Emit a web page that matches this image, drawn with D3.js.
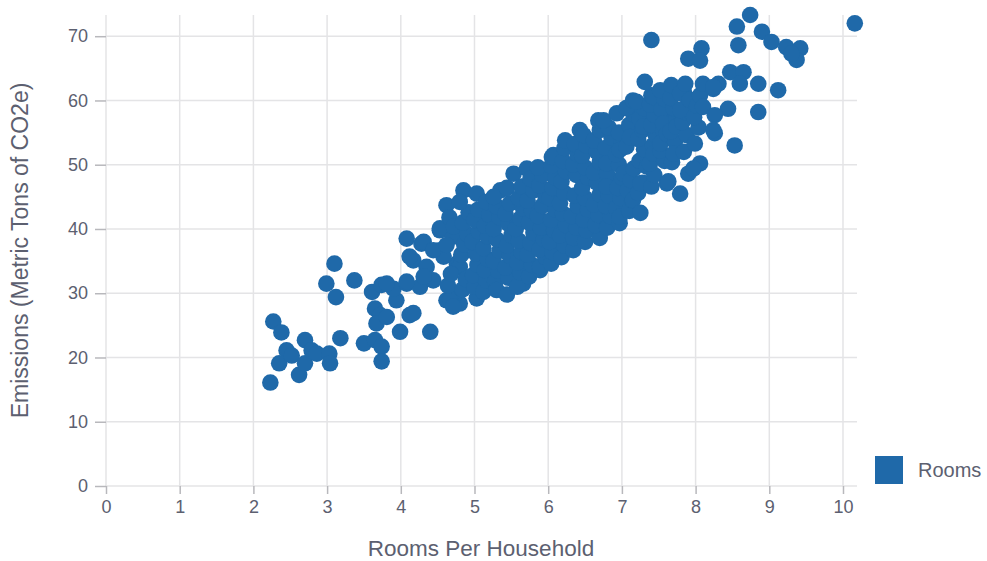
<!DOCTYPE html>
<html>
<head>
<meta charset="utf-8">
<script src="https://cdn.jsdelivr.net/npm/d3@7"></script>
<style>
  html, body { margin: 0; padding: 0; background: #ffffff; }
  svg { display: block; }
  text { font-family: "Liberation Sans", Arial, Helvetica, sans-serif; }
</style>
</head>
<body>
<svg id="chart" width="987" height="561"></svg>
<script>
// Rooms per household (x) vs. emissions in metric tons of CO2e (y)
const seriesName = "Rooms";
const xTitle = "Rooms Per Household";
const yTitle = "Emissions (Metric Tons of CO2e)";
const xTicks = [0, 1, 2, 3, 4, 5, 6, 7, 8, 9, 10];
const yTicks = [0, 10, 20, 30, 40, 50, 60, 70];

// small-home tail
const tailPoints = [
  [2.23,16.1],[2.27,25.6],[2.38,23.9],[2.45,21.1],[2.35,19.1],[2.52,20.3],[2.62,17.3],[2.70,19.1],
  [2.70,22.7],[2.79,21.1],[2.86,20.6],[3.03,20.6],[3.04,19.1],[3.18,23.0],[2.99,31.5],[3.10,34.6],
  [3.12,29.4],[3.37,32.0],[3.50,22.2],[3.65,22.7],[3.74,21.7],[3.74,19.4],[3.65,27.6],[3.72,26.6],
  [3.67,25.3],[3.81,26.3],[3.61,30.2],[3.74,31.3],[3.99,24.0],[4.12,26.6],[4.40,24.0],[3.94,28.9],
  [3.90,30.7],[4.08,31.5],[4.26,31.0],[4.08,38.5],[4.53,39.8],[4.62,43.7],[4.17,35.1],[4.28,37.7],
  [4.35,34.1],[4.44,32.0],[4.62,28.9],[4.80,28.4],[4.71,29.4],[5.03,29.2],[4.53,36.7],[4.76,34.6],
  [3.81,31.5],[4.08,31.8],[4.31,32.6],[4.17,26.9],[4.67,28.9],[4.71,27.9],[4.80,34.1],[4.58,35.7],
  [4.31,38.0],[4.71,38.8],[4.12,35.7],[4.44,36.7],[4.53,40.1],[4.85,46.0],[5.03,45.5],[5.35,46.0]
];

// main body of the cloud
const bodyPoints = [
  [4.64,31.2],[4.68,33.0],[4.62,37.5],[4.66,41.8],[4.72,40.4],
  [4.84,30.6],[4.88,32.2],[4.82,36.0],[4.86,37.6],[4.90,39.2],[4.84,41.0],[4.92,42.6],[4.80,44.2],
  [5.00,31.0],[4.98,32.8],[5.04,34.4],[5.02,36.2],[4.97,38.0],[5.06,39.6],[5.00,41.4],[5.05,43.0],
  [5.12,30.2],[5.16,32.0],[5.14,33.6],[5.18,35.3],[5.12,37.0],[5.18,38.8],[5.14,40.5],[5.20,42.2],[5.16,44.2],
  [5.28,31.8],[5.32,33.5],[5.26,35.0],[5.34,36.6],[5.30,38.4],[5.26,40.0],[5.34,41.8],[5.30,43.5],[5.26,45.0],
  [5.30,30.5],[5.44,29.8],[5.46,32.4],[5.42,34.0],[5.48,35.8],[5.44,37.4],[5.50,39.0],[5.46,40.8],[5.42,42.4],
  [5.48,44.0],[5.44,46.4],[5.53,48.6],
  [5.66,31.5],[5.58,31.0],[5.62,33.2],[5.58,34.8],[5.64,36.4],[5.60,38.2],[5.56,40.0],[5.62,41.6],[5.66,43.2],
  [5.60,44.8],[5.64,46.6],[5.71,49.4],
  [5.74,32.6],[5.78,34.4],[5.72,36.0],[5.76,37.8],[5.80,39.4],[5.74,41.0],[5.78,42.8],[5.72,44.4],[5.80,46.0],
  [5.76,47.8],[5.89,33.6],[5.89,34.1],
  [5.96,35.6],[5.88,36.8],[5.94,38.4],[5.90,40.2],[5.86,42.0],[5.92,43.6],[5.96,45.2],[5.88,46.8],[5.92,48.4],
  [5.86,49.6],
  [6.04,34.6],[6.06,36.4],[6.02,38.0],[6.08,39.8],[6.04,41.4],[6.10,43.0],[6.02,44.8],[6.06,46.4],[6.10,48.0],
  [6.04,49.8],[6.07,51.5],[6.05,51.2],
  [6.18,35.6],[6.22,37.4],[6.16,39.0],[6.24,40.6],[6.20,42.4],[6.16,44.0],[6.22,45.6],[6.18,47.4],[6.24,49.0],
  [6.20,50.6],[6.22,52.6],[6.23,53.8],
  [6.34,36.7],[6.34,38.6],[6.38,40.2],[6.32,42.0],[6.40,43.6],[6.36,45.2],[6.38,48.4],[6.34,50.0],
  [6.40,51.6],[6.36,53.2],[6.43,55.4],
  [6.50,38.0],[6.52,39.8],[6.48,41.4],[6.54,43.0],[6.50,44.8],[6.46,46.4],[6.54,48.0],[6.50,49.6],[6.46,51.4],
  [6.52,53.0],[6.48,54.6],
  [6.70,38.6],[6.64,40.6],[6.68,42.2],[6.62,43.8],[6.70,45.4],[6.66,47.2],[6.62,48.8],[6.70,50.4],[6.66,52.0],
  [6.62,53.8],[6.70,55.4],[6.68,56.9],
  [6.80,40.2],[6.84,42.0],[6.78,43.6],[6.82,45.2],[6.86,47.0],[6.80,48.6],[6.84,50.8],[6.78,52.6],[6.86,54.2],
  [6.82,55.8],[6.75,56.9],[6.79,50.2],[6.79,46.6],
  [6.97,40.9],[6.92,43.2],[6.98,44.8],[6.94,46.4],[7.00,48.0],[6.96,50.0],[6.92,51.6],[7.00,53.4],[6.96,55.0],
  [6.93,58.0],[6.97,41.9],[7.02,48.6],[6.97,52.3],
  [7.10,42.8],[7.14,44.4],[7.08,46.0],[7.12,47.6],[7.16,49.4],[7.06,52.8],[7.14,54.6],[7.10,56.2],[7.16,57.8],
  [7.06,58.8],[7.15,60.0],[7.15,44.5],[7.11,54.3],
  [7.25,42.5],[7.22,45.6],[7.28,47.2],[7.24,50.6],[7.30,52.4],[7.22,54.0],[7.28,55.4],[7.24,57.2],[7.30,58.8],
  [7.20,59.8],[7.25,47.1],[7.34,49.7],[7.29,55.9],
  [7.40,46.6],[7.44,48.4],[7.38,50.2],[7.42,53.0],[7.46,54.6],[7.40,56.2],[7.44,57.8],[7.38,59.4],[7.40,60.8],
  [7.43,60.5],[7.43,51.7],[7.31,62.9],
  [7.61,47.1],[7.58,50.6],[7.52,52.2],[7.56,55.2],[7.60,57.0],[7.54,58.6],[7.58,60.2],[7.52,61.6],[7.63,47.4],
  [7.52,53.3],[7.56,56.4],[7.61,54.8],
  [7.68,50.4],[7.72,53.6],[7.66,55.2],[7.74,57.2],[7.70,58.8],[7.66,60.4],[7.67,62.4],[7.70,51.7],[7.74,55.9],
  [7.84,52.0],[7.88,54.6],[7.82,56.6],[7.86,58.2],[7.90,59.6],[7.84,61.4],[7.79,45.5],[7.90,48.6],[7.79,58.5],
  [7.79,61.1],[7.86,62.6],[7.92,60.1],
  [8.04,55.8],[7.98,57.4],[8.02,59.2],[8.06,60.8],[8.10,62.6],[7.99,53.3],[8.06,50.2],[7.97,49.4],[8.10,59.0]
];

// large homes
const upperPoints = [
  [10.16,72.0],[8.74,73.3],[8.56,71.5],[8.58,68.6],[8.90,70.7],[9.03,69.1],[9.23,68.3],[9.42,68.1],
  [9.37,66.3],[9.30,67.3],[7.40,69.4],[8.08,68.1],[7.90,66.5],[8.06,66.2],[9.12,61.6],[8.85,62.6],
  [8.85,58.2],[8.53,53.0],[8.26,54.9],[8.44,58.7],[8.31,62.6],[8.47,64.4],[8.65,64.4],[8.60,62.6],
  [8.24,61.8],[8.26,57.7],[8.24,55.4],[8.24,62.1]
];

const points = tailPoints.concat(bodyPoints, upperPoints);

const svg = d3.select("#chart");
const margin = { left: 106, top: 15 };
const plotW = 857 - margin.left;
const plotH = 486 - margin.top;

const x = d3.scaleLinear()
  .domain([0, d3.max(points, d => d[0]) + 0.03])
  .range([margin.left, margin.left + plotW]);
const y = d3.scaleLinear()
  .domain([0, d3.max(points, d => d[1])])
  .range([margin.top + plotH, margin.top]);

const gridColor = "#e4e4e6";
const tickColor = "#b8b8bc";
const labelColor = "#5c6070";

// grid
const grid = svg.append("g");
grid.selectAll("line.vx").data(xTicks).join("line")
  .attr("x1", d => x(d)).attr("x2", d => x(d))
  .attr("y1", y.range()[1]).attr("y2", y.range()[0])
  .attr("stroke", gridColor).attr("stroke-width", 1.5);
grid.selectAll("line.hy").data(yTicks).join("line")
  .attr("y1", d => y(d)).attr("y2", d => y(d))
  .attr("x1", x.range()[0]).attr("x2", x.range()[1])
  .attr("stroke", gridColor).attr("stroke-width", 1.5);

// axes
const xAxis = svg.append("g")
  .attr("transform", `translate(0,${y(0)})`)
  .call(d3.axisBottom(x).tickValues(xTicks).tickFormat(d3.format("d")).tickSize(8).tickPadding(6));
const yAxis = svg.append("g")
  .attr("transform", `translate(${x(0)},0)`)
  .call(d3.axisLeft(y).tickValues(yTicks).tickFormat(d3.format("d")).tickSize(11).tickPadding(7));

[xAxis, yAxis].forEach(a => {
  a.select(".domain").remove();
  a.selectAll(".tick line").attr("stroke", tickColor).attr("stroke-width", 1.5);
  a.selectAll(".tick text").attr("fill", labelColor)
    .style("font-size", "18px");
});

// axis titles
svg.append("text")
  .attr("x", 481)
  .attr("y", 556)
  .attr("text-anchor", "middle")
  .attr("fill", labelColor)
  .style("font-size", "22.5px")
  .text(xTitle);

svg.append("text")
  .attr("transform", `translate(28,${(y.range()[0] + y.range()[1]) / 2}) rotate(-90)`)
  .attr("text-anchor", "middle")
  .attr("fill", labelColor)
  .style("font-size", "23px")
  .text(yTitle);

// points
const pointColor = "#1f69a9";
svg.append("g").selectAll("circle").data(points).join("circle")
  .attr("cx", d => x(d[0]))
  .attr("cy", d => y(d[1]))
  .attr("r", 8.3)
  .attr("fill", pointColor);

// legend
const legend = svg.append("g").attr("transform", "translate(875,456)");
legend.append("rect").attr("width", 28).attr("height", 28).attr("fill", pointColor);
legend.append("text")
  .attr("x", 43).attr("y", 14).attr("dy", "0.35em")
  .attr("fill", labelColor)
  .style("font-size", "20px")
  .text(seriesName);
</script>
</body>
</html>
